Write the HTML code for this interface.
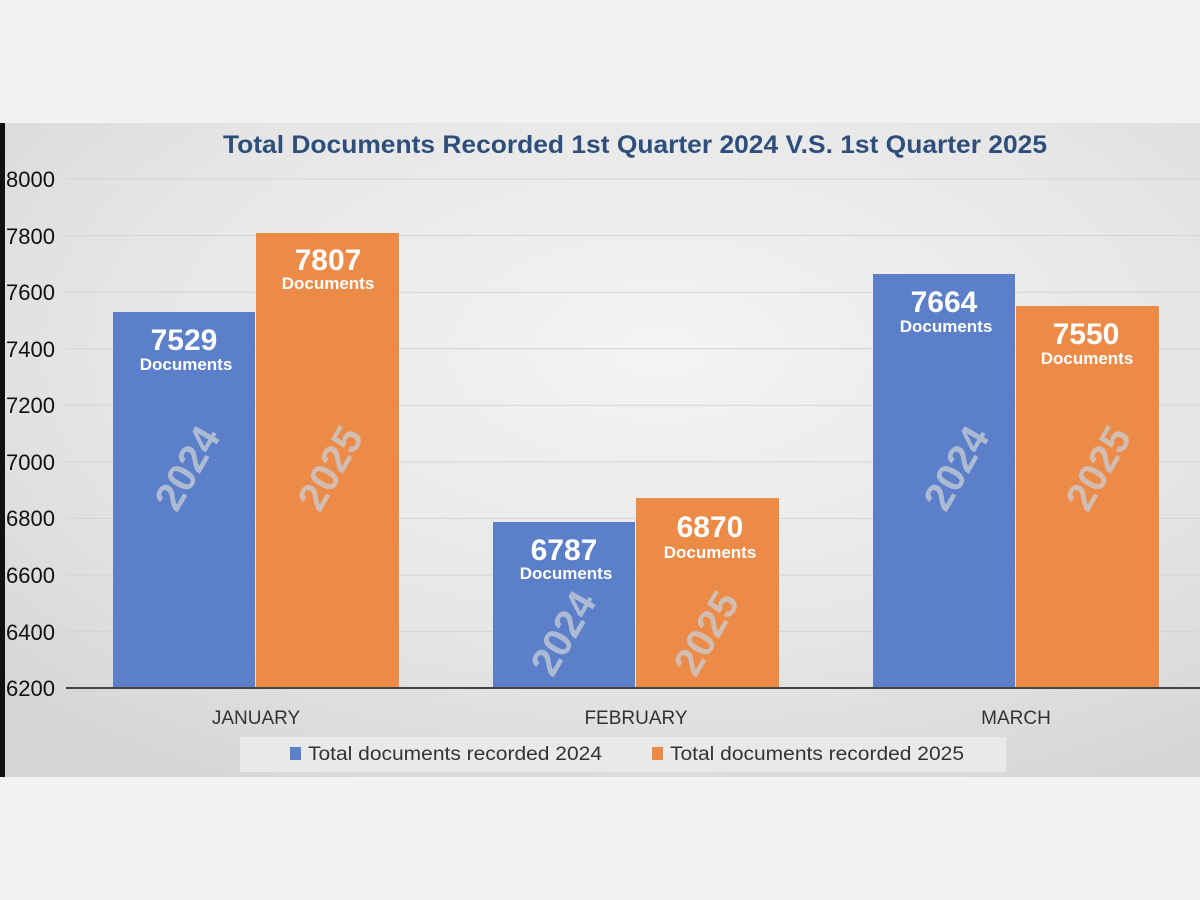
<!DOCTYPE html>
<html><head><style>
body{margin:0;width:1200px;height:900px;background:#f2f2f2;overflow:hidden;font-family:"Liberation Sans",sans-serif}
</style></head><body>
<svg width="1200" height="900" xmlns="http://www.w3.org/2000/svg" style="position:absolute;left:0;top:0">
<defs>
<radialGradient id="bg" cx="0.55" cy="0.35" r="0.75">
<stop offset="0" stop-color="#f4f4f4"/><stop offset="0.6" stop-color="#e6e6e6"/><stop offset="1" stop-color="#d6d6d6"/>
</radialGradient>
</defs>
<rect x="0" y="123" width="1200" height="654" fill="url(#bg)"/>
<rect x="0" y="123" width="5" height="654" fill="#111"/>
<text x="223" y="153" textLength="824" lengthAdjust="spacingAndGlyphs" font-size="25" font-weight="bold" fill="#2e4f7c">Total Documents Recorded 1st Quarter 2024 V.S. 1st Quarter 2025</text>
<g stroke="#d4d4d4" stroke-width="1">
<line x1="66" x2="1200" y1="179" y2="179"/><line x1="66" x2="1200" y1="235.6" y2="235.6"/>
<line x1="66" x2="1200" y1="292.2" y2="292.2"/><line x1="66" x2="1200" y1="348.7" y2="348.7"/>
<line x1="66" x2="1200" y1="405.3" y2="405.3"/><line x1="66" x2="1200" y1="461.9" y2="461.9"/>
<line x1="66" x2="1200" y1="518.4" y2="518.4"/><line x1="66" x2="1200" y1="575" y2="575"/>
<line x1="66" x2="1200" y1="631.6" y2="631.6"/>
</g>
<g font-size="22" fill="#111">
<text x="6" y="187">8000</text><text x="6" y="244">7800</text><text x="6" y="300">7600</text>
<text x="6" y="357">7400</text><text x="6" y="413">7200</text><text x="6" y="470">7000</text>
<text x="6" y="526">6800</text><text x="6" y="583">6600</text><text x="6" y="640">6400</text>
<text x="6" y="696">6200</text>
</g>
<g fill="#5b80c9">
<rect x="113" y="312" width="142" height="376"/>
<rect x="493" y="522" width="142" height="166"/>
<rect x="873" y="274" width="142" height="414"/>
</g>
<g fill="#ec8a47">
<rect x="256" y="233" width="143" height="455"/>
<rect x="636" y="498" width="143" height="190"/>
<rect x="1016" y="306" width="143" height="382"/>
</g>
<line x1="66" x2="1200" y1="688" y2="688" stroke="#444" stroke-width="2"/>
<g font-weight="bold" fill="#fff" text-anchor="middle">
<text x="184" y="350" font-size="30">7529</text><text x="186" y="370" font-size="17">Documents</text>
<text x="328" y="270" font-size="30">7807</text><text x="328" y="289" font-size="17">Documents</text>
<text x="564" y="560" font-size="30">6787</text><text x="566" y="579" font-size="17">Documents</text>
<text x="710" y="537" font-size="30">6870</text><text x="710" y="558" font-size="17">Documents</text>
<text x="944" y="312" font-size="30">7664</text><text x="946" y="332" font-size="17">Documents</text>
<text x="1086" y="344" font-size="30">7550</text><text x="1087" y="364" font-size="17">Documents</text>
</g>
<g font-weight="bold" fill="#c8cdd6" fill-opacity="0.75" font-size="40" text-anchor="middle">
<text transform="translate(187,468) rotate(-60)" dy="14">2024</text>
<text transform="translate(330,468) rotate(-60)" dy="14">2025</text>
<text transform="translate(563,633) rotate(-60)" dy="14">2024</text>
<text transform="translate(706,633) rotate(-60)" dy="14">2025</text>
<text transform="translate(956,468) rotate(-60)" dy="14">2024</text>
<text transform="translate(1098,468) rotate(-60)" dy="14">2025</text>
</g>
<g font-size="19" fill="#333" text-anchor="middle">
<text x="256" y="724">JANUARY</text><text x="636" y="724">FEBRUARY</text><text x="1016" y="724">MARCH</text>
</g>
<rect x="240" y="737" width="766" height="35" fill="#e9e9e9"/>
<rect x="290" y="747" width="11" height="13" fill="#5b80c9"/>
<text x="308" y="760" font-size="19" fill="#333" textLength="294" lengthAdjust="spacingAndGlyphs">Total documents recorded 2024</text>
<rect x="652" y="747" width="11" height="13" fill="#ec8a47"/>
<text x="670" y="760" font-size="19" fill="#333" textLength="294" lengthAdjust="spacingAndGlyphs">Total documents recorded 2025</text>
</svg>
</body></html>
